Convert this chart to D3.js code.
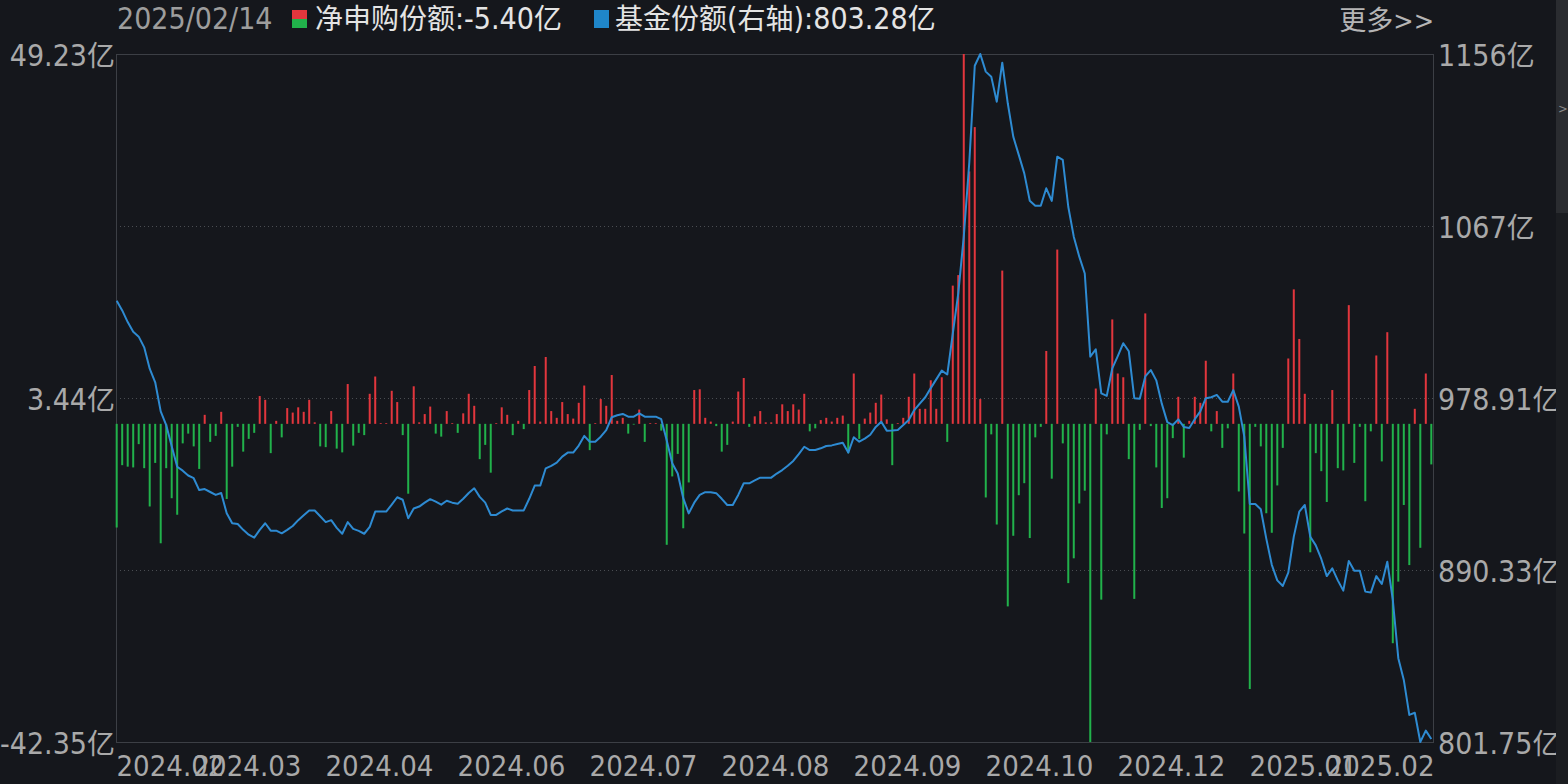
<!DOCTYPE html>
<html>
<head>
<meta charset="utf-8">
<script src="https://cdn.jsdelivr.net/npm/d3@7"></script>
<style>
  html, body { margin: 0; padding: 0; background: #15171c; overflow: hidden; }
  svg { display: block; }
</style>
</head>
<body>
<svg id="chart" width="1568" height="784"></svg>
<script>
// data (index = trading day, 2024.02 -> 2025.02.14)
const lastDate = "2025/02/14";

// 净申购份额 (亿), left axis
const netSub = [
  -13.8, -5.5, -5.7, -5.8, -2.7, -5.9, -11.0, -5.2, -15.9, -5.9,
  -9.9, -12.1, -2.6, -1.3, -3.0, -6.0, 1.2, -2.4, -1.6, 1.6,
  -10.0, -5.7, -0.4, -3.7, -2.0, -1.2, 3.7, 3.2, -3.9, 0.4,
  -1.8, 2.1, 1.5, 2.2, 1.6, 3.2, 0.2, -3.0, -3.1, 1.7,
  -3.3, -3.8, 5.3, -2.9, -1.2, -1.5, 4.0, 6.3, 0.1, 0.1,
  4.4, 2.9, -1.5, -9.3, 5.0, 0.2, 1.3, 2.3, -1.3, -1.7,
  1.7, 0.1, -1.2, 1.4, 4.0, 2.4, -4.7, -2.8, -6.5, 0.1,
  2.2, 1.2, -1.5, 0.4, -0.7, 4.5, 7.7, 0.3, 8.9, 1.7,
  0.8, 2.9, 1.3, 0.7, 2.8, 5.1, -3.5, 0.1, 3.3, 2.4,
  6.5, 0.4, 0.8, -1.3, -0.1, 1.9, -2.4, 0.1, 0.1, -0.9,
  -16.1, -7.0, -4.0, -13.9, -7.8, 4.5, 4.6, 0.8, 0.3, -0.3,
  -3.7, -2.8, 0.3, 4.3, 6.1, -0.4, 1.0, 1.7, 0.2, 0.2,
  1.3, 2.6, 1.7, 2.6, 1.9, 4.0, -1.0, -0.6, 0.5, 0.8,
  0.3, 0.8, 1.1, -3.9, 6.7, -2.0, 0.7, 1.5, 2.8, 3.9,
  0.6, -5.5, 0.1, 0.8, 3.6, 6.7, 2.0, 2.0, 5.8, 2.0,
  6.2, -2.4, 18.4, 19.8, 49.23, 33.6, 39.5, 3.3, -9.8, -1.4,
  -13.4, 20.4, -24.3, -14.9, -9.5, -7.9, -15.2, -1.8, -0.4, 9.7,
  -7.3, 23.2, -2.6, -21.2, -17.9, -10.6, -8.9, -42.35, 4.7, -23.4,
  -1.4, 13.9, 6.7, 6.2, -4.7, -23.3, -0.8, 14.7, -0.3, -5.8,
  -11.2, -9.9, -1.9, 3.6, -4.5, 0.4, 3.6, 2.8, 8.4, -1.0,
  1.7, -3.2, -0.6, 6.7, -9.0, -14.6, -35.3, -0.4, -3.0, -11.9,
  -14.5, -8.2, -3.2, 8.7, 17.9, 11.3, 4.0, -17.1, -3.9, -6.3,
  -10.4, 4.5, -5.9, -6.2, 15.8, -5.2, -0.4, -10.3, -1.0, 9.1,
  -5.0, 12.2, -29.2, -21.0, -10.8, -18.8, 2.0, -16.5, 6.7, -5.40
];

// 基金份额 (亿), right axis
const fundShare = [
  1029, 1024, 1018, 1013, 1010.5, 1005, 994, 987, 972, 965,
  954, 943.5, 941.5, 939, 937.6, 931.5, 932, 930.5, 929, 930,
  919.5, 914.4, 914, 911, 908.5, 907, 911, 914.4, 910.6, 910.6,
  909.2, 911, 913, 916, 918.5, 921, 921, 918, 915, 916,
  912, 909, 915, 911.5, 910.5, 909, 912.5, 920.4, 920.4, 920.4,
  924, 927.8, 926.5, 917, 922, 923, 925, 926.8, 925.5, 924,
  926, 925, 924.5, 927, 930, 932.4, 928, 925, 918.7, 918.7,
  920.5, 922, 921, 921, 921, 927, 933.8, 933.8, 942.7, 944,
  945.6, 948.7, 950.8, 950.8, 954.4, 959.4, 956.4, 956.4, 959, 962.4,
  969, 970, 970.7, 969.3, 969.3, 971, 969.3, 969.3, 969.3, 968,
  957, 945.3, 940, 927.3, 919.5, 925, 929, 930.4, 930.4, 929.9,
  927, 923.8, 923.8, 929, 935, 935, 936.5, 937.9, 937.9, 937.9,
  940, 941.8, 944, 946.5, 950, 953.8, 952.1, 952.1, 953, 954.2,
  954.5, 955.2, 955.9, 950.8, 958.7, 956.4, 958, 960, 964, 966.7,
  962.1, 962.2, 962.4, 965, 967.6, 972.7, 976, 979.3, 984, 988.5,
  993, 991, 1012, 1032.8, 1062, 1100, 1150, 1156.07, 1147, 1144.4,
  1131.5, 1151.6, 1130.7, 1113.5, 1104.1, 1094.6, 1080.5, 1077.9, 1077.9, 1086.9,
  1080.4, 1103.2, 1101.5, 1077.4, 1062, 1051.7, 1043, 1000.2, 1004, 981.3,
  980, 994.2, 1000.5, 1007.1, 1003, 978.8, 978.5, 990, 993.3, 988,
  976, 966.5, 965, 967.9, 964, 963.5, 968, 972, 978.8, 979.3,
  980.5, 977, 977, 983, 974.5, 959, 924.3, 924.3, 921.6, 906.5,
  893, 885, 882.1, 889, 907.5, 920.4, 923.8, 907.5, 903, 896,
  887.2, 891.2, 885, 879.7, 895, 890, 890, 879.2, 878.7, 887.2,
  883.1, 894.6, 875, 844.9, 833.7, 815.7, 816.8, 801.75, 807.6, 803.28
];

// axis ticks
const xTickIdx = [0, 14, 38, 62, 86, 110, 134, 158, 182, 206, 239];
const xTickLabels = ["2024.02", "2024.03", "2024.04", "2024.06", "2024.07", "2024.08",
                     "2024.09", "2024.10", "2024.12", "2025.01", "2025.02"];
const leftTicks = [49.23, 3.44, -42.35];
const leftTickLabels = ["49.23亿", "3.44亿", "-42.35亿"];
const rightTicks = [1156.07, 1067.49, 978.91, 890.33, 801.75];
const rightTickLabels = ["1156亿", "1067亿", "978.91亿", "890.33亿", "801.75亿"];

const margin = {top: 54, right: 134, bottom: 42, left: 116},
      width = 1568 - margin.left - margin.right,
      height = 784 - margin.top - margin.bottom;

const numFont = "'DejaVu Sans Condensed', 'Noto Sans CJK SC', sans-serif";
const red = "#e2363d", green = "#21b24b", blue = "#2e8bd2";

const svg = d3.select("#chart");
const g = svg.append("g").attr("transform", `translate(${margin.left},${margin.top})`);

// split digits / CJK into tspans so each gets its own size
function richText(sel, str, numSize, cjkSize) {
  sel.text(null);
  str.match(/[\u4e00-\u9fff]+|[^\u4e00-\u9fff]+/g).forEach(run => {
    const cjk = /[\u4e00-\u9fff]/.test(run);
    sel.append("tspan")
      .attr("font-size", cjk ? cjkSize : numSize)
      .attr("font-family", cjk ? "'Noto Sans CJK SC', sans-serif" : numFont)
      .text(run);
  });
}

const x = d3.scaleLinear().domain([0, netSub.length - 1]).range([0.7, width - 2.7]);
const yL = d3.scaleLinear().domain(d3.extent(netSub)).range([height, 0]);
const yR = d3.scaleLinear().domain(d3.extent(fundShare)).range([height, 0]);

// dotted grid lines
g.selectAll(".grid")
  .data(rightTicks.slice(1, -1))
  .enter().append("line")
  .attr("x1", 0).attr("x2", width)
  .attr("y1", d => Math.round(yR(d)) + 0.5).attr("y2", d => Math.round(yR(d)) + 0.5)
  .attr("stroke", "#4a4d52")
  .attr("stroke-dasharray", "1,3");

// frame
g.append("rect")
  .attr("x", 0.5).attr("y", 0.5)
  .attr("width", width - 1).attr("height", height)
  .attr("fill", "none")
  .attr("stroke", "#3c3f45");

// bars
g.selectAll(".bar")
  .data(netSub)
  .enter().append("rect")
  .attr("class", "bar")
  .attr("x", (d, i) => x(i) - 1)
  .attr("width", 2)
  .attr("y", d => yL(Math.max(0, d)))
  .attr("height", d => Math.abs(yL(d) - yL(0)))
  .attr("fill", d => d >= 0 ? red : green);

// fund share line
const line = d3.line().x((d, i) => x(i)).y(d => yR(d));
g.append("path")
  .datum(fundShare)
  .attr("d", line)
  .attr("fill", "none")
  .attr("stroke", blue)
  .attr("stroke-width", 2)
  .attr("stroke-linejoin", "round");

// left axis
const axL = g.append("g")
  .call(d3.axisLeft(yL).tickValues(leftTicks).tickSize(0).tickPadding(1)
    .tickFormat((d, i) => leftTickLabels[i]));
axL.select(".domain").remove();
axL.selectAll(".tick text").attr("fill", "#a9a9a9").attr("dy", 11)
  .each(function(d, i) { richText(d3.select(this), leftTickLabels[i], 30, 28); });

// right axis
const axR = g.append("g").attr("transform", `translate(${width},0)`)
  .call(d3.axisRight(yR).tickValues(rightTicks).tickSize(0).tickPadding(4)
    .tickFormat((d, i) => rightTickLabels[i]));
axR.select(".domain").remove();
axR.selectAll(".tick text").attr("fill", "#a9a9a9").attr("dy", 11)
  .each(function(d, i) { richText(d3.select(this), rightTickLabels[i], 30, 28); });

// bottom axis
const axB = g.append("g").attr("transform", `translate(0,${height})`)
  .call(d3.axisBottom(x).tickValues(xTickIdx).tickSize(0)
    .tickFormat((d, i) => xTickLabels[i]));
axB.select(".domain").remove();
axB.selectAll(".tick text")
  .attr("fill", "#a9a9a9")
  .attr("font-family", numFont)
  .attr("font-size", 29)
  .attr("y", 34).attr("dy", null)
  .attr("text-anchor", (d, i) => i === xTickIdx.length - 1 ? "end" : "start")
  .attr("dx", (d, i) => i === xTickIdx.length - 1 ? 2.7 : -0.7);

// header / legend
const head = svg.append("g");
const fmt = v => v.toFixed(2);
richText(head.append("text").attr("x", 117).attr("y", 29).attr("fill", "#9d9d9d"), lastDate, 30, 28);

head.append("rect").attr("x", 292).attr("y", 10).attr("width", 15).attr("height", 9).attr("fill", red);
head.append("rect").attr("x", 292).attr("y", 19).attr("width", 15).attr("height", 9).attr("fill", green);
richText(head.append("text").attr("x", 315).attr("y", 29).attr("fill", "#e4e4e4"),
  `净申购份额:${fmt(netSub[netSub.length - 1])}亿`, 30, 28);

head.append("rect").attr("x", 594).attr("y", 10).attr("width", 15).attr("height", 18).attr("fill", "#1f86c9");
richText(head.append("text").attr("x", 615).attr("y", 29).attr("fill", "#e4e4e4"),
  `基金份额(右轴):${fmt(fundShare[fundShare.length - 1])}亿`, 30, 28);

richText(head.append("text").attr("x", 1434).attr("y", 30).attr("text-anchor", "end").attr("fill", "#b5b5b5"),
  "更多>>", 27, 27);

// side strip on the right edge
svg.append("rect").attr("x", 1556).attr("y", 0).attr("width", 12).attr("height", 784).attr("fill", "#1b1d21");
svg.append("rect").attr("x", 1556).attr("y", 0).attr("width", 12).attr("height", 213).attr("fill", "#2a2c30");
svg.append("text").attr("x", 1558).attr("y", 113).attr("fill", "#8a8a8a")
  .attr("font-family", numFont).attr("font-size", 13).text(">");
</script>
</body>
</html>
